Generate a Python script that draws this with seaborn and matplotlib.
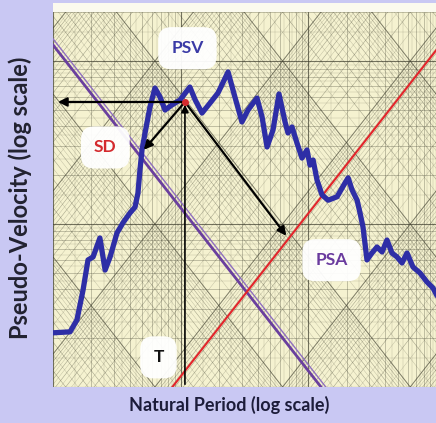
import numpy as np
import pandas as pd
import matplotlib
matplotlib.use("Agg")
import matplotlib.pyplot as plt
from matplotlib.patches import Rectangle
import seaborn as sns

# ---------------- data ----------------
period = [0.0100, 0.0136, 0.0154, 0.0172, 0.0188, 0.0206, 0.0233, 0.0256, 0.0280, 0.0317,
          0.0354, 0.0401, 0.0439, 0.0463, 0.0480, 0.0498, 0.0526, 0.0575, 0.0629, 0.0689,
          0.0754, 0.0855, 0.0988, 0.118, 0.130, 0.147, 0.170, 0.196, 0.235, 0.266,
          0.302, 0.337, 0.396, 0.434, 0.475, 0.529, 0.589, 0.657, 0.693, 0.745,
          0.815, 0.892, 0.976, 1.03, 1.09, 1.17, 1.28, 1.43, 1.68, 1.94,
          2.05, 2.20, 2.41, 2.54, 2.68, 2.88, 3.15, 3.45, 3.78, 4.13,
          4.52, 4.95, 5.42, 5.93, 6.60, 7.49, 8.50, 9.47, 10.4]
psv = [2.15, 2.18, 2.58, 3.94, 6.02, 6.28, 8.21, 5.22, 6.28, 8.81,
       10.2, 11.7, 12.7, 15.5, 21.5, 28.5, 36.2, 52.3, 68.3, 60.2,
       50.1, 53.8, 57.7, 69.3, 57.7, 48.0, 55.3, 63.7, 85.7, 60.2,
       42.3, 50.1, 59.3, 45.4, 29.7, 37.8, 62.8, 42.3, 36.2, 39.4,
       31.4, 25.4, 28.5, 23.0, 24.7, 18.6, 15.1, 14.0, 14.7, 17.9,
       19.2, 16.2, 14.0, 11.7, 9.59, 6.02, 6.64, 7.23, 6.74, 7.98,
       6.64, 6.28, 5.77, 6.64, 5.45, 5.01, 4.41, 4.05, 3.52]

sd_lines = [0.200, 0.218]          # constant spectral displacement lines (purple)
psa_line = 73.0                     # constant pseudo-acceleration line (red)
point_T, point_V = 0.108, 56.1      # read point on the spectrum
sd_arrow_end = (0.0498, 27.7)
psa_arrow_end = (0.693, 8.21)
left_end_T = 0.0104
bottom_V = 1.0

xlim = (0.01, 10.0)
ylim = (1.0, 200.0)

labels = {"PSV": (0.113, 120.0, "#3a3aa6"),
          "SD": (0.0257, 29.5, "#d42a2e"),
          "PSA": (1.52, 6.0, "#6a3b9e"),
          "T": (0.0670, 1.52, "#111111")}

df = pd.DataFrame({"T": period, "PSV": psv})

# ---------------- figure ----------------
sns.set_theme(style="white")
plt.rcParams["font.family"] = ["Lato", "DejaVu Sans"]

W, H = 436, 423
fig = plt.figure(figsize=(W / 100, H / 100), dpi=100)
fig.patch.set_facecolor("#c9c8f3")

# cream paper margin at the top
fig.add_artist(Rectangle((53 / W, (H - 12) / H), 1 - 53 / W, 9 / H,
                         transform=fig.transFigure, fc="#fbfaee", ec="none"))

ax = fig.add_axes([53 / W, (H - 387) / H, (436 - 53) / W, (387 - 12) / H])
ax.set_facecolor("#f5f2d0")
ax.set_xscale("log")
ax.set_yscale("log")
ax.set_xlim(*xlim)
ax.set_ylim(*ylim)

# tripartite paper grid (dense)
Tg = np.logspace(-2.2, 1.2, 50)
gc = "#3c3c2c"
steps = np.arange(1.0, 10.0, 0.5)
for n in range(-3, 3):
    for k in steps:
        v = k * 10.0 ** n
        major = k == 1.0
        lw = 0.8 if major else (0.45 if k == int(k) else 0.3)
        al = 0.7 if major else (0.45 if k == int(k) else 0.3)
        ax.axvline(v, color=gc, lw=lw, alpha=al, zorder=1)
        ax.axhline(v, color=gc, lw=lw, alpha=al, zorder=1)
for n in range(-4, 4):
    for k in steps:
        s = k * 10.0 ** n
        major = k == 1.0
        lw = 0.7 if major else (0.4 if k == int(k) else 0.3)
        al = 0.65 if major else (0.42 if k == int(k) else 0.3)
        ax.plot(Tg, 2 * np.pi * s / Tg, color=gc, lw=lw, alpha=al, zorder=1)
for n in range(-2, 7):
    for k in steps:
        a = k * 10.0 ** n
        major = k == 1.0
        lw = 0.7 if major else (0.4 if k == int(k) else 0.3)
        al = 0.65 if major else (0.42 if k == int(k) else 0.3)
        ax.plot(Tg, a * Tg / (2 * np.pi), color=gc, lw=lw, alpha=al, zorder=1)

# purple SD lines and red PSA line
ax.plot(Tg, 2 * np.pi * sd_lines[0] / Tg, color="#6a3f9e", lw=2.0, zorder=3)
ax.plot(Tg, 2 * np.pi * sd_lines[1] / Tg, color="#8f6fbf", lw=1.0, zorder=3)
ax.plot(Tg, psa_line * Tg / (2 * np.pi), color="#e2252b", lw=1.5, zorder=3)

# response spectrum
sns.lineplot(data=df, x="T", y="PSV", sort=False, estimator=None,
             color="#2e2ea6", lw=3.8, ax=ax, zorder=4)

# arrows
akw = dict(arrowstyle="-|>", color="black", lw=1.6, mutation_scale=13)
ax.annotate("", xy=(left_end_T, point_V), xytext=(point_T, point_V),
            arrowprops=akw, zorder=5)
ax.annotate("", xy=sd_arrow_end, xytext=(point_T, point_V),
            arrowprops=akw, zorder=5)
ax.annotate("", xy=psa_arrow_end, xytext=(point_T, point_V),
            arrowprops=akw, zorder=5)
ax.annotate("", xy=(point_T, point_V), xytext=(point_T, bottom_V),
            arrowprops=dict(arrowstyle="-|>", color="black", lw=1.2, mutation_scale=11),
            zorder=5)
ax.plot([point_T], [point_V], "o", color="#d42a2e", ms=4, zorder=6)

# labels in white boxes
for txt, (tx, ty, c) in labels.items():
    ax.text(tx, ty, txt, color=c, fontsize=12.5, fontweight="bold",
            ha="center", va="center", zorder=7,
            bbox=dict(boxstyle="round,pad=0.75", fc="white", ec="none", alpha=0.95))

for sp in ax.spines.values():
    sp.set_visible(False)
ax.set_xticks([])
ax.set_yticks([])
ax.minorticks_off()
ax.set_xlabel("")
ax.set_ylabel("")

fig.text(229 / W, 1 - 405 / H, "Natural Period (log scale)", ha="center", va="center",
         fontsize=13, fontweight="bold", color="#1c1c3a")
fig.text(20 / W, 1 - 198 / H, "Pseudo-Velocity (log scale)", ha="center", va="center",
         rotation=90, fontsize=17, fontweight="bold", color="#222230")

fig.savefig("out.png", dpi=100, facecolor=fig.get_facecolor())
